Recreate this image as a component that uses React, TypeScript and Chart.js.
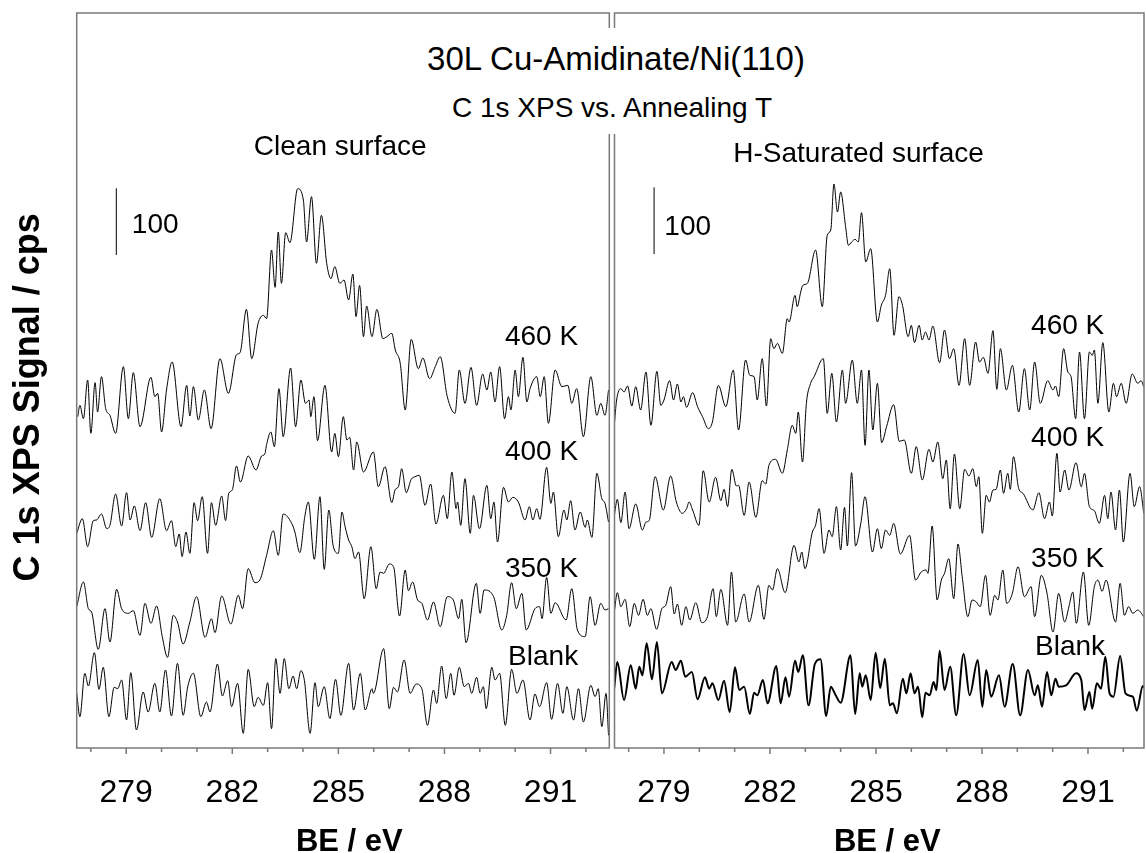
import React, { useEffect, useRef } from 'react';
import { Chart, registerables } from 'chart.js';

Chart.register(...registerables);

const FONT = "'Liberation Sans', Arial, Helvetica, sans-serif";

type Pt = [number, number];

// ---------- Clean surface (left panel): [BE / eV, signal / cps incl. offset] ----------
const clean460: Pt[] = [
  [277.63,497],[277.69,514],[277.79,494],[277.91,552],[278.00,472],[278.12,548],[278.19,504],[278.30,557],[278.42,509],[278.54,499],
  [278.70,472],[278.92,572],[279.06,494],[279.20,563],[279.39,482],[279.70,556],[279.81,527],[279.89,532],[280.00,474],[280.14,537],
  [280.30,579],[280.55,482],[280.71,544],[280.80,498],[280.90,542],[281.04,492],[281.21,537],[281.40,479],[281.65,584],[281.89,532],
  [282.12,590],[282.22,593],[282.40,658],[282.55,584],[282.73,637],[282.88,649],[282.97,644],[283.11,747],[283.21,691],[283.30,774],
  [283.39,697],[283.51,773],[283.63,758],[283.85,839],[284.01,822],[284.10,759],[284.24,827],[284.38,727],[284.52,799],[284.67,727],
  [284.79,704],[284.90,722],[285.04,697],[285.16,702],[285.29,672],[285.41,711],[285.50,647],[285.60,694],[285.71,617],[285.80,663],
  [285.95,617],[286.09,658],[286.26,614],[286.37,617],[286.51,622],[286.61,597],[286.75,577],[286.89,507],[287.06,613],[287.26,569],
  [287.39,585],[287.58,554],[287.74,572],[287.88,587],[288.08,527],[288.30,502],[288.42,567],[288.58,517],[288.75,571],[288.91,514],
  [289.08,561],[289.20,537],[289.31,564],[289.43,519],[289.56,572],[289.70,494],[289.81,527],[289.88,507],[290.00,567],[290.09,527],
  [290.22,586],[290.33,519],[290.42,539],[290.61,557],[290.71,527],[290.82,557],[290.94,487],[291.13,567],[291.32,542],[291.49,544],
  [291.60,517],[291.74,539],[291.93,467],[292.14,557],[292.31,499],[292.42,517],[292.54,499],[292.64,537],
];

const clean400: Pt[] = [
  [277.60,322],[277.76,344],[277.91,302],[278.07,341],[278.16,342],[278.30,351],[278.45,329],[278.54,334],[278.70,381],[278.87,333],
  [279.01,383],[279.11,342],[279.23,363],[279.39,326],[279.55,368],[279.72,316],[279.95,374],[280.14,326],[280.28,341],[280.40,302],
  [280.50,321],[280.58,287],[280.69,324],[280.80,292],[280.92,368],[281.02,341],[281.15,377],[281.30,292],[281.41,368],[281.53,334],
  [281.70,378],[281.81,341],[281.90,382],[282.00,387],[282.12,423],[282.23,399],[282.45,438],[282.67,417],[282.83,438],[282.92,441],
  [282.97,455],[283.09,474],[283.19,452],[283.32,539],[283.44,467],[283.65,570],[283.79,482],[283.94,552],[284.07,517],[284.17,522],
  [284.22,497],[284.31,527],[284.41,461],[284.62,544],[284.81,444],[284.90,472],[285.00,437],[285.14,497],[285.24,462],[285.32,466],
  [285.43,417],[285.52,459],[285.71,414],[285.99,444],[286.13,392],[286.32,422],[286.51,368],[286.61,388],[286.70,392],[286.79,419],
  [286.92,383],[287.06,403],[287.17,407],[287.29,409],[287.45,364],[287.61,396],[287.76,336],[287.97,379],[288.08,344],[288.21,414],
  [288.33,359],[288.37,369],[288.46,334],[288.58,404],[288.73,322],[288.82,379],[288.99,329],[289.20,394],[289.31,344],[289.40,369],
  [289.50,309],[289.67,391],[289.81,369],[289.93,376],[290.09,369],[290.28,342],[290.40,362],[290.50,342],[290.61,359],[290.70,343],
  [290.89,421],[291.01,367],[291.08,384],[291.22,317],[291.38,357],[291.46,342],[291.57,371],[291.69,327],[291.84,354],[291.98,331],
  [292.04,342],[292.17,316],[292.31,412],[292.45,374],[292.54,367],[292.64,339],
];

const clean350: Pt[] = [
  [277.60,212],[277.79,249],[277.93,209],[278.02,204],[278.21,148],[278.40,209],[278.54,159],[278.73,238],[278.87,209],[279.06,202],
  [279.20,206],[279.39,169],[279.53,217],[279.70,187],[279.86,213],[280.02,167],[280.17,136],[280.33,199],[280.45,189],[280.61,156],
  [280.80,189],[280.99,227],[281.23,166],[281.41,194],[281.51,173],[281.70,228],[281.96,186],[282.17,229],[282.29,209],[282.45,269],
  [282.64,248],[282.78,252],[282.97,289],[283.16,326],[283.30,289],[283.44,351],[283.68,337],[283.77,324],[283.91,293],[284.05,347],
  [284.15,369],[284.32,283],[284.48,377],[284.60,268],[284.73,357],[284.85,304],[285.00,292],[285.10,354],[285.19,332],[285.29,312],
  [285.38,302],[285.47,284],[285.57,294],[285.73,224],[285.92,302],[286.07,239],[286.18,264],[286.28,262],[286.44,276],[286.56,272],
  [286.73,198],[286.89,267],[286.98,236],[287.10,249],[287.24,222],[287.36,217],[287.52,192],[287.69,219],[287.88,182],[288.08,227],
  [288.25,222],[288.40,194],[288.49,223],[288.61,158],[288.90,247],[289.01,202],[289.12,237],[289.39,227],[289.62,177],[289.76,199],
  [289.90,248],[290.03,209],[290.19,232],[290.31,177],[290.56,209],[290.69,212],[290.76,194],[290.89,256],[291.01,202],[291.13,218],
  [291.44,192],[291.60,239],[291.76,177],[291.98,167],[292.12,227],[292.26,184],[292.42,217],[292.54,207],[292.64,209],
];

const cleanBlank: Pt[] = [
  [277.60,82],[277.69,47],[277.83,112],[277.93,93],[278.10,143],[278.23,88],[278.35,121],[278.51,47],[278.66,91],[278.76,89],
  [278.87,102],[279.01,42],[279.13,113],[279.29,27],[279.48,84],[279.62,54],[279.81,97],[279.95,54],[280.11,117],[280.28,48],
  [280.45,127],[280.61,49],[280.74,92],[280.90,112],[281.11,47],[281.27,69],[281.37,54],[281.58,126],[281.72,78],[281.87,101],
  [281.98,62],[282.15,97],[282.31,22],[282.45,118],[282.62,62],[282.73,76],[282.88,64],[283.00,98],[283.11,29],[283.23,134],
  [283.35,82],[283.47,134],[283.60,89],[283.72,108],[283.82,89],[283.94,116],[284.04,101],[284.20,22],[284.34,98],[284.43,62],
  [284.60,92],[284.76,44],[284.92,103],[285.07,49],[285.29,127],[285.43,57],[285.62,112],[285.76,57],[285.95,89],[285.99,82],
  [286.28,149],[286.44,59],[286.56,91],[286.67,84],[286.86,132],[287.03,82],[287.20,96],[287.36,89],[287.52,34],[287.69,87],
  [287.78,67],[287.92,123],[288.05,74],[288.18,112],[288.27,79],[288.42,121],[288.56,92],[288.68,97],[288.77,82],[288.91,106],
  [289.01,82],[289.10,92],[289.18,59],[289.34,121],[289.43,102],[289.56,112],[289.72,34],[289.90,118],[290.05,82],[290.22,102],
  [290.42,42],[290.56,81],[290.69,62],[290.89,98],[291.03,43],[291.20,97],[291.35,52],[291.46,92],[291.65,42],[291.79,89],
  [291.93,39],[292.14,94],[292.26,77],[292.35,89],[292.45,32],[292.57,82],[292.64,19],
];

// ---------- H-saturated surface (right panel) ----------
const hsat460: Pt[] = [
  [277.59,482],[277.66,522],[277.78,539],[277.87,534],[277.97,543],[278.09,513],[278.20,542],[278.34,507],[278.49,564],[278.63,484],
  [278.80,565],[278.91,514],[279.00,522],[279.16,551],[279.27,522],[279.38,546],[279.48,519],[279.55,527],[279.64,511],[279.81,533],
  [279.95,512],[280.09,497],[280.26,479],[280.37,489],[280.54,544],[280.75,512],[280.96,567],[281.11,477],[281.31,582],[281.43,559],
  [281.55,557],[281.64,522],[281.78,584],[281.90,513],[282.02,614],[282.11,599],[282.21,607],[282.35,592],[282.49,644],[282.54,639],
  [282.71,679],[282.77,662],[282.87,684],[282.93,694],[283.06,697],[283.29,747],[283.48,662],[283.62,769],[283.72,777],[283.81,846],
  [283.91,804],[284.00,834],[284.14,782],[284.22,754],[284.31,759],[284.41,763],[284.50,759],[284.59,803],[284.71,729],[284.85,749],
  [285.04,639],[285.15,664],[285.27,679],[285.39,719],[285.51,619],[285.65,677],[285.75,664],[285.91,617],[286.00,634],[286.09,608],
  [286.22,634],[286.31,612],[286.40,624],[286.50,612],[286.61,633],[286.80,578],[286.94,627],[287.08,584],[287.20,599],[287.35,544],
  [287.51,614],[287.65,544],[287.82,609],[287.93,579],[288.04,586],[288.17,562],[288.31,626],[288.42,538],[288.52,599],[288.69,537],
  [288.86,574],[289.04,504],[289.20,569],[289.35,507],[289.49,579],[289.65,517],[289.86,551],[290.01,537],[290.08,543],[290.17,527],
  [290.31,599],[290.43,564],[290.52,557],[290.65,494],[290.76,594],[290.90,494],[291.04,594],[291.12,589],[291.18,597],[291.28,517],
  [291.42,608],[291.59,504],[291.72,547],[291.81,527],[291.94,547],[292.08,517],[292.25,561],[292.41,547],[292.50,551],[292.58,542],
];

const hsat400: Pt[] = [
  [277.59,347],[277.68,373],[277.78,338],[277.90,384],[278.01,329],[278.20,366],[278.39,327],[278.49,339],[278.58,341],[278.75,407],
  [278.98,357],[279.19,408],[279.35,369],[279.52,352],[279.64,359],[279.71,369],[279.81,357],[279.99,334],[280.11,416],[280.28,369],
  [280.46,406],[280.61,371],[280.70,388],[280.80,362],[280.92,418],[281.05,393],[281.11,394],[281.27,349],[281.41,399],[281.60,346],
  [281.78,401],[281.88,396],[281.97,424],[282.16,433],[282.35,412],[282.49,447],[282.63,484],[282.73,472],[282.80,504],[282.92,429],
  [283.03,517],[283.15,547],[283.25,557],[283.51,584],[283.62,502],[283.75,562],[283.88,489],[284.05,567],[284.14,517],[284.33,582],
  [284.47,517],[284.59,567],[284.69,454],[284.80,567],[284.91,477],[285.04,547],[285.16,458],[285.30,482],[285.50,515],[285.66,460],
  [285.80,462],[286.00,412],[286.14,452],[286.31,402],[286.50,448],[286.61,429],[286.75,459],[286.89,404],[286.99,432],[287.10,359],
  [287.22,441],[287.37,359],[287.51,418],[287.63,408],[287.74,419],[287.84,392],[287.91,407],[288.01,322],[288.12,379],[288.21,369],
  [288.31,387],[288.40,388],[288.52,417],[288.61,382],[288.73,412],[288.80,388],[288.89,437],[289.04,389],[289.16,382],[289.44,357],
  [289.61,383],[289.77,344],[289.91,369],[289.99,348],[290.12,442],[290.21,384],[290.34,417],[290.46,387],[290.66,428],[290.81,392],
  [290.90,412],[291.04,362],[291.18,356],[291.32,337],[291.47,379],[291.56,344],[291.65,384],[291.78,327],[291.89,387],[292.00,309],
  [292.19,412],[292.31,362],[292.46,392],[292.58,352],
];

const hsat350: Pt[] = [
  [277.59,202],[277.68,233],[277.78,212],[277.90,223],[278.03,182],[278.16,217],[278.28,199],[278.41,223],[278.53,199],[278.63,209],
  [278.79,178],[278.94,209],[279.05,214],[279.19,242],[279.29,201],[279.38,216],[279.50,184],[279.62,212],[279.73,192],[279.90,218],
  [280.07,188],[280.23,197],[280.39,239],[280.48,197],[280.61,238],[280.80,184],[280.91,264],[281.03,189],[281.27,231],[281.41,189],
  [281.67,244],[281.83,193],[281.97,244],[282.07,237],[282.21,269],[282.43,233],[282.68,304],[282.82,279],[282.90,294],[282.99,269],
  [283.20,324],[283.29,334],[283.39,359],[283.53,292],[283.67,327],[283.76,317],[283.88,362],[284.00,297],[284.11,361],[284.19,303],
  [284.31,413],[284.42,303],[284.57,337],[284.69,377],[284.90,294],[285.04,329],[285.15,299],[285.27,327],[285.39,319],[285.50,337],
  [285.69,291],[285.95,319],[286.12,252],[286.28,264],[286.42,267],[286.47,262],[286.59,333],[286.73,222],[286.85,252],[286.94,262],
  [287.06,284],[287.20,224],[287.32,306],[287.44,257],[287.60,197],[287.72,222],[287.84,219],[287.95,212],[288.10,259],[288.23,199],
  [288.36,229],[288.45,222],[288.59,267],[288.70,217],[288.86,232],[289.02,272],[289.20,227],[289.39,242],[289.49,197],[289.68,259],
  [289.84,232],[290.01,174],[290.17,232],[290.34,189],[290.46,212],[290.57,234],[290.67,187],[290.87,264],[291.02,184],[291.18,242],
  [291.28,252],[291.40,235],[291.51,252],[291.78,189],[291.91,247],[292.03,199],[292.15,212],[292.27,202],[292.41,207],[292.58,197],
];

const hsatBlank: Pt[] = [
  [277.59,89],[277.68,129],[277.87,72],[278.06,124],[278.20,89],[278.30,122],[278.39,109],[278.51,157],[278.66,103],[278.80,159],
  [278.94,82],[279.22,129],[279.33,117],[279.48,131],[279.60,107],[279.79,114],[279.95,73],[280.16,106],[280.28,89],[280.37,97],
  [280.54,72],[280.70,101],[280.86,54],[281.01,121],[281.13,87],[281.27,92],[281.43,51],[281.55,83],[281.64,79],[281.80,102],
  [281.93,67],[282.18,123],[282.30,67],[282.44,106],[282.54,77],[282.71,131],[282.80,114],[282.93,139],[283.09,64],[283.27,126],
  [283.43,133],[283.59,48],[283.72,92],[283.86,79],[284.00,68],[284.28,139],[284.41,51],[284.54,112],[284.61,92],[284.71,109],
  [284.85,72],[284.99,143],[285.12,90],[285.25,134],[285.39,64],[285.48,67],[285.59,52],[285.76,104],[285.86,82],[285.98,112],
  [286.09,82],[286.19,92],[286.31,46],[286.40,83],[286.52,79],[286.63,99],[286.71,87],[286.80,146],[286.94,87],[287.10,122],
  [287.27,49],[287.48,141],[287.65,79],[287.88,132],[288.01,62],[288.12,117],[288.26,77],[288.48,109],[288.64,62],[288.87,126],
  [289.08,49],[289.30,117],[289.49,79],[289.58,94],[289.70,62],[289.84,114],[289.96,79],[290.08,104],[290.17,92],[290.38,94],
  [290.66,112],[290.81,102],[290.90,57],[291.04,84],[291.12,59],[291.25,97],[291.37,89],[291.49,137],[291.61,82],[291.72,77],
  [291.91,138],[292.06,82],[292.27,77],[292.38,56],[292.55,93],[292.58,90],
];

// ---------- axes ----------
const xMajorTicks = [279, 282, 285, 288, 291];
const xMinorTicks = [278, 280, 281, 283, 284, 286, 287, 289, 290, 292];
const leftRange: [number, number] = [277.6, 292.662];
const rightRange: [number, number] = [277.6, 292.585];
const yRange: [number, number] = [0, 1102.5];

// scale bar (100 cps)
const scaleBarBE = 278.72;
const leftScaleBar = [739.5, 839.5];
const rightScaleBar = [741, 841];

const tempLabels = ['460 K', '400 K', '350 K', 'Blank'];

type TextItem = { text: string; be: number; cps: number; size: number; bold?: boolean; align?: CanvasTextAlign };

const decorPlugin = {
  id: 'decor',
  afterDraw(chart: any, _args: any, opts: any) {
    const { ctx, chartArea: a, scales } = chart;
    const x = scales.x;
    const y = scales.y;
    ctx.save();
    ctx.strokeStyle = '#7a7a7a';
    ctx.lineWidth = 1.5;
    ctx.strokeRect(a.left, a.top, a.right - a.left, a.bottom - a.top);
    ctx.beginPath();
    xMajorTicks.forEach((v) => {
      const px = x.getPixelForValue(v);
      ctx.moveTo(px, a.bottom);
      ctx.lineTo(px, a.bottom + 6);
    });
    xMinorTicks.forEach((v) => {
      const px = x.getPixelForValue(v);
      ctx.moveTo(px, a.bottom);
      ctx.lineTo(px, a.bottom + 4);
    });
    ctx.stroke();

    ctx.fillStyle = '#000';
    ctx.textBaseline = 'alphabetic';
    (opts.texts as TextItem[]).forEach((t) => {
      ctx.font = `${t.bold ? 'bold ' : ''}${t.size}px ${FONT}`;
      ctx.textAlign = t.align || 'left';
      ctx.fillText(t.text, x.getPixelForValue(t.be), y.getPixelForValue(t.cps));
    });

    if (opts.yTitle) {
      const yt = opts.yTitle;
      ctx.save();
      ctx.translate(yt.px, y.getPixelForValue(yt.cps));
      ctx.rotate(-Math.PI / 2);
      ctx.font = `bold ${yt.size}px ${FONT}`;
      ctx.textAlign = 'center';
      ctx.fillText(yt.text, 0, 0);
      ctx.restore();
    }
    ctx.restore();
  },
};

type Panel = {
  range: [number, number];
  padLeft: number;
  padRight: number;
  traces: { pts: Pt[]; width: number }[];
  bar: number[];
  texts: TextItem[];
  yTitle?: { text: string; px: number; cps: number; size: number };
};

function buildConfig(p: Panel): any {
  const traceSets = p.traces.map((t) => ({
    data: t.pts.map(([bx, v]) => ({ x: bx, y: v })),
    borderColor: '#000',
    borderWidth: t.width,
    pointRadius: 0,
    fill: false,
    cubicInterpolationMode: 'monotone',
  }));
  const barSet = {
    data: p.bar.map((v) => ({ x: scaleBarBE, y: v })),
    borderColor: '#000',
    borderWidth: 1,
    pointRadius: 0,
    fill: false,
    tension: 0,
  };
  return {
    type: 'line',
    data: { datasets: [...traceSets, barSet] },
    options: {
      responsive: false,
      maintainAspectRatio: false,
      animation: false,
      events: [],
      layout: { padding: { left: p.padLeft, right: p.padRight, top: 13, bottom: 0 } },
      plugins: {
        legend: { display: false },
        tooltip: { enabled: false },
        decor: { texts: p.texts, yTitle: p.yTitle },
      },
      scales: {
        x: {
          type: 'linear',
          min: p.range[0],
          max: p.range[1],
          afterBuildTicks: (s: any) => {
            s.ticks = xMajorTicks.map((v) => ({ value: v }));
          },
          afterFit: (s: any) => {
            s.height = 105;
          },
          grid: { display: false, drawTicks: false },
          border: { display: false },
          ticks: {
            padding: 26,
            color: '#000',
            font: { family: FONT, size: 32 },
            maxRotation: 0,
            autoSkip: false,
            includeBounds: false,
          },
        },
        y: { type: 'linear', display: false, min: yRange[0], max: yRange[1] },
      },
    },
    plugins: [decorPlugin],
  };
}

const leftPanel: Panel = {
  range: leftRange,
  padLeft: 76.7,
  padRight: 1.7,
  traces: [
    { pts: clean460, width: 1 },
    { pts: clean400, width: 1 },
    { pts: clean350, width: 1 },
    { pts: cleanBlank, width: 1 },
  ],
  bar: leftScaleBar,
  texts: [
    { text: 'Clean surface', be: 282.61, cps: 889.5, size: 28 },
    { text: '100', be: 279.16, cps: 772.5, size: 28 },
    { text: tempLabels[0], be: 289.71, cps: 604.5, size: 28 },
    { text: tempLabels[1], be: 289.71, cps: 432, size: 28 },
    { text: tempLabels[2], be: 289.71, cps: 256.5, size: 28 },
    { text: tempLabels[3], be: 289.8, cps: 124.5, size: 28 },
    { text: 'BE / eV', be: 285.31, cps: -154.5, size: 31, bold: true, align: 'center' },
  ],
  yTitle: { text: 'C 1s XPS Signal / cps', px: 39, cps: 526, size: 36 },
};

const rightPanel: Panel = {
  range: rightRange,
  padLeft: 3,
  padRight: 2,
  traces: [
    { pts: hsat460, width: 1 },
    { pts: hsat400, width: 1 },
    { pts: hsat350, width: 1 },
    { pts: hsatBlank, width: 2 },
  ],
  bar: rightScaleBar,
  texts: [
    { text: 'H-Saturated surface', be: 280.96, cps: 879, size: 28 },
    { text: '100', be: 279.01, cps: 769.5, size: 28 },
    { text: tempLabels[0], be: 289.39, cps: 621, size: 28 },
    { text: tempLabels[1], be: 289.39, cps: 453, size: 28 },
    { text: tempLabels[2], be: 289.39, cps: 271.5, size: 28 },
    { text: tempLabels[3], be: 289.5, cps: 139.5, size: 28 },
    { text: 'BE / eV', be: 285.32, cps: -154.5, size: 31, bold: true, align: 'center' },
  ],
};

export default function App() {
  const leftRef = useRef<HTMLCanvasElement>(null);
  const rightRef = useRef<HTMLCanvasElement>(null);

  useEffect(() => {
    const charts: Chart[] = [];
    if (leftRef.current) charts.push(new Chart(leftRef.current, buildConfig(leftPanel)));
    if (rightRef.current) charts.push(new Chart(rightRef.current, buildConfig(rightPanel)));
    return () => charts.forEach((c) => c.destroy());
  }, []);

  return (
    <div style={{ position: 'absolute', left: 0, top: 0, width: 1146, height: 853, background: '#fff', overflow: 'hidden' }}>
      <canvas ref={leftRef} width={611} height={853} style={{ position: 'absolute', left: 0, top: 0, width: 611, height: 853 }} />
      <canvas ref={rightRef} width={535} height={853} style={{ position: 'absolute', left: 611, top: 0, width: 535, height: 853 }} />
      <div
        style={{
          position: 'absolute', left: 616, top: 28, transform: 'translateX(-50%)', background: '#fff',
          fontFamily: FONT, fontSize: 33, lineHeight: '61px', whiteSpace: 'nowrap', padding: '0 4px', color: '#000',
        }}
      >
        30L Cu-Amidinate/Ni(110)
      </div>
      <div
        style={{
          position: 'absolute', left: 612, top: 89, transform: 'translateX(-50%)', background: '#fff',
          fontFamily: FONT, fontSize: 28, lineHeight: '37px', whiteSpace: 'nowrap', padding: '0 4px 8px', color: '#000',
        }}
      >
        C 1s XPS vs. Annealing T
      </div>
    </div>
  );
}
